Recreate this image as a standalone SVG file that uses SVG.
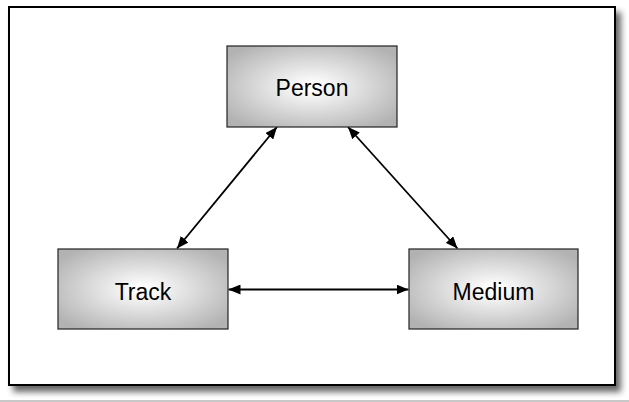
<svg xmlns="http://www.w3.org/2000/svg" width="629" height="402" viewBox="0 0 629 402">
  <style>
    .node rect { stroke: #222222; stroke-width: 1.2; fill: url(#boxgrad); }
    .node text { font-family: "Liberation Sans", Arial, sans-serif; font-size: 23px; fill: #000000; text-anchor: middle; }
    .conn line { stroke: #000000; stroke-width: 1.8; marker-start: url(#ah); marker-end: url(#ah); }
  </style>
  <defs>
    <radialGradient id="boxgrad" cx="50%" cy="50%" r="62%">
      <stop offset="0.05" stop-color="#ffffff"/>
      <stop offset="1" stop-color="#b2b2b2"/>
    </radialGradient>
    <filter id="shadow" x="-5%" y="-5%" width="115%" height="120%">
      <feGaussianBlur in="SourceAlpha" stdDeviation="3"/>
      <feOffset dx="5" dy="6" result="b"/>
      <feComponentTransfer in="b" result="c"><feFuncA type="linear" slope="0.6"/></feComponentTransfer>
      <feMerge><feMergeNode in="c"/><feMergeNode in="SourceGraphic"/></feMerge>
    </filter>
    <marker id="ah" viewBox="0 0 12 10" refX="12" refY="5" markerWidth="12" markerHeight="10" markerUnits="userSpaceOnUse" orient="auto-start-reverse">
      <path d="M0,0 L12,5 L0,10 Z" fill="#000000"/>
    </marker>
  </defs>
  <rect x="0" y="0" width="629" height="402" fill="#ffffff"/>
  <rect x="0" y="400" width="629" height="2" fill="#c8c8c8"/>
  <g id="frame">
    <rect x="9" y="7" width="606" height="378" fill="#ffffff" stroke="#000000" stroke-width="2" filter="url(#shadow)"/>
  </g>
  <g id="connectors" class="conn">
    <line x1="277" y1="127" x2="177" y2="248.5"/>
    <line x1="348" y1="127" x2="457.5" y2="248.5"/>
    <line x1="228.5" y1="289.5" x2="408.5" y2="289.5"/>
  </g>
  <g id="person" class="node">
    <rect x="227" y="46" width="170" height="81"/>
    <text x="312" y="96">Person</text>
  </g>
  <g id="track" class="node">
    <rect x="58" y="249" width="170" height="80"/>
    <text x="143" y="300">Track</text>
  </g>
  <g id="medium" class="node">
    <rect x="409" y="249" width="169" height="80"/>
    <text x="493.5" y="300">Medium</text>
  </g>
</svg>
